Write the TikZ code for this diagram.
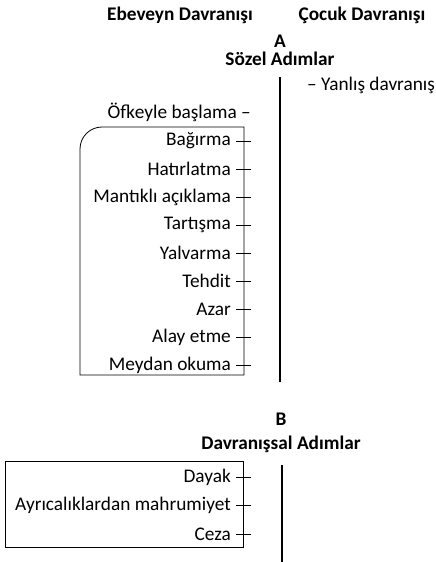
\documentclass[tikz,border=0pt]{standalone}
\usepackage{fontspec}
\setmainfont{Carlito}
\usetikzlibrary{positioning}
\tikzset{
  head/.style    = {font=\bfseries\fontsize{19.3}{23}\selectfont, inner sep=0pt},
  lbl/.style     = {anchor=east, font=\fontsize{19.3}{23}\selectfont, inner sep=0pt},
  note/.style    = {font=\fontsize{19.3}{23}\selectfont, inner sep=0pt},
  tickline/.style= {line width=0.9pt},
  axisline/.style= {line width=1.7pt},
  frame/.style   = {line width=0.8pt},
}

\begin{document}
\begin{tikzpicture}[x=1pt,y=-1pt]
  \useasboundingbox (0,0) rectangle (436,562);
  % column heads
  \node[head] (parent) at (180,15) {Ebeveyn Davranışı};
  \node[head] (child)  at (362,15) {Çocuk Davranışı};
  % part A
  \node[head] (A)     at (280,41) {A};
  \node[head] (verbal) at (280,59) {Sözel Adımlar};
  \draw[axisline] (280,77) -- (280,382);
  \node[note,anchor=west] (wrong) at (307,85) {– Yanlış davranış};
  \node[note,anchor=east] (anger) at (251,112) {Öfkeyle başlama –};
  \draw[frame] (80,375) -- (80,149) to[out=90,in=180] (102,127) -- (244,127) -- (244,375) -- cycle;
  \foreach \t [count=\i] in {Bağırma,Hatırlatma,Mantıklı açıklama,Tartışma,Yalvarma,Tehdit,Azar,Alay etme,Meydan okuma}{
    \node[lbl] (a\i) at (231,{113+28*\i}) {\t};
    \draw[tickline] ([xshift=5pt]a\i.east) -- ([xshift=20pt]a\i.east);}
  % part B
  \node[head] (B)     at (281,419) {B};
  \node[head] (behav) at (281,444) {Davranışsal Adımlar};
  \draw[axisline] (282,465) -- (282,562);
  \draw[frame] (5,461) rectangle (243,547);
  \foreach \t [count=\i] in {Dayak,Ayrıcalıklardan mahrumiyet,Ceza}{
    \node[lbl] (b\i) at (231,{448.5+28.5*\i}) {\t};
    \draw[tickline] ([xshift=5pt]b\i.east) -- ([xshift=20pt]b\i.east);}
\end{tikzpicture}
\end{document}
